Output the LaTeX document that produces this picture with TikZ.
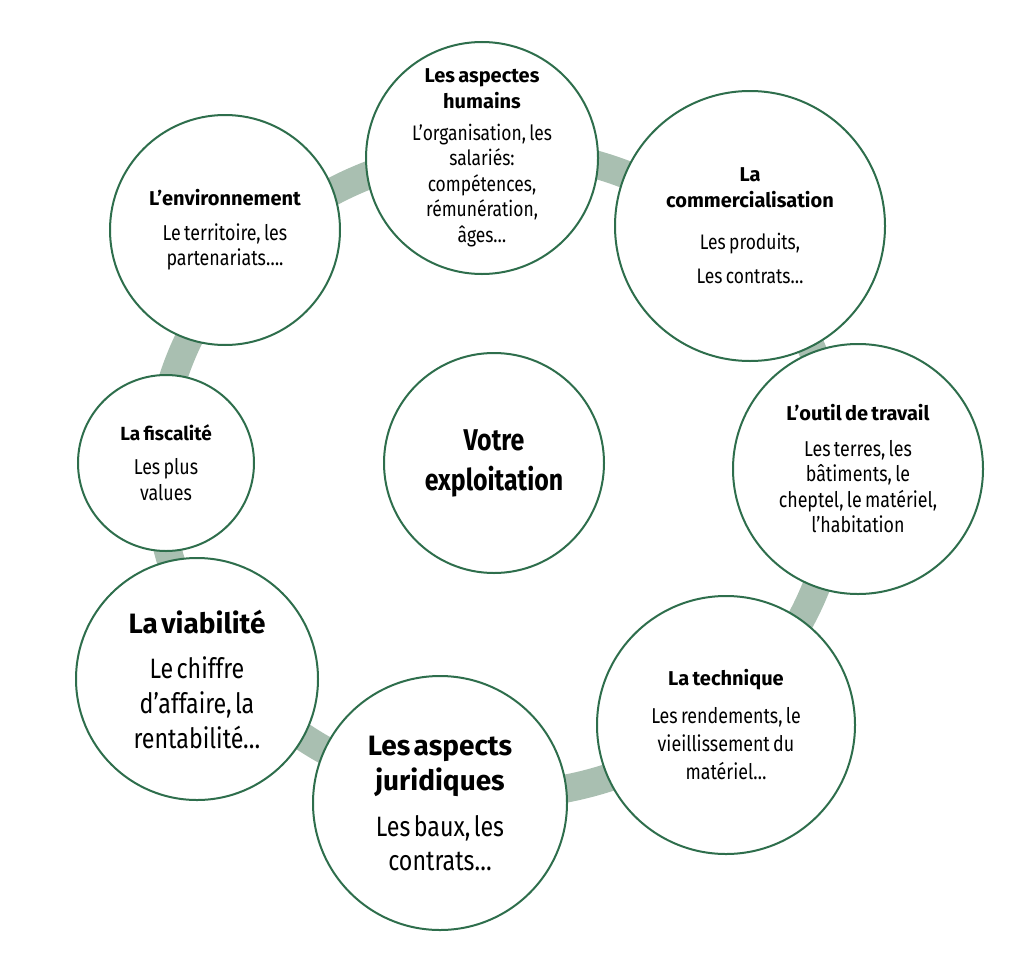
\documentclass[tikz,border=0pt]{standalone}
\usepackage{fontspec}
\setmainfont{Fira Sans}[FakeStretch=0.83]
\newfontfamily\titrefont{Fira Sans}
\usetikzlibrary{backgrounds}

\definecolor{bordvert}{HTML}{2E6E4C}
\definecolor{lienvert}{HTML}{A9BFB1}

% blocs de texte dans les bulles
\newcommand{\titre}[3]{{\fontsize{#1}{#2}\titrefont\bfseries #3\par}}
\newcommand{\corps}[3]{{\fontsize{#1}{#2}\selectfont #3\par}}

\begin{document}
\begin{tikzpicture}[x=1pt,y=-1pt,
  bulle/.style={circle,draw=bordvert,line width=2pt,fill=white,inner sep=-80pt,align=center},
  anneau/.style={draw=lienvert,line width=28pt}]
  \useasboundingbox (0,0) rectangle (1011,958);

  % Bulles du tour
  \node[bulle,minimum size=232pt,text width=200pt] (hum) at (482,158)
    {\titre{20}{26}{Les aspectes\\humains}\vspace{6pt}
     \corps{21}{25.5}{L’organisation, les\\salariés:\\compétences,\\rémunération,\\âges…}};
  \node[bulle,minimum size=270pt,text width=230pt] (com) at (750,226)
    {\titre{20}{26}{La\\commercialisation}\vspace{8pt}
     \corps{21}{34}{Les produits,\\Les contrats…}};
  \node[bulle,minimum size=230pt,text width=200pt] (env) at (225,230)
    {\titre{20}{25}{L’environnement}\vspace{10pt}
     \corps{21.5}{25}{Le territoire, les\\partenariats….}};
  \node[bulle,minimum size=176pt,text width=150pt] (fis) at (166,463)
    {\titre{19}{25}{La fiscalité}\vspace{8pt}
     \corps{21.5}{26}{Les plus\\values}};
  \node[bulle,minimum size=250pt,text width=220pt] (out) at (858,469)
    {\titre{20}{25}{L’outil de travail}\vspace{10pt}
     \corps{21.5}{25.5}{Les terres, les\\bâtiments, le\\cheptel, le matériel,\\l’habitation}};
  \node[bulle,minimum size=242pt,text width=210pt] (via) at (197,679)
    {\titre{28}{35}{La viabilité}\vspace{10pt}
     \corps{28}{35}{Le chiffre\\d’affaire, la\\rentabilité…}};
  \node[bulle,minimum size=254pt,text width=220pt] (jur) at (440,803)
    {\titre{28}{35}{Les aspects\\juridiques}\vspace{12pt}
     \corps{28}{34}{Les baux, les\\contrats…}};
  \node[bulle,minimum size=258pt,text width=220pt] (tec) at (726,725)
    {\titre{20}{26}{La technique}\vspace{10pt}
     \corps{21.5}{28}{Les rendements, le\\vieillissement du\\matériel…}};

  % Bulle centrale
  \node[bulle,minimum size=220pt,text width=190pt] (vot) at (494,463)
    {\corps{30}{40}{\bfseries Votre\\exploitation}};

  % Anneau qui relie les bulles
  \begin{scope}[on background layer]
    \draw[anneau] ([xshift=4pt,yshift=-10pt]vot.center) ellipse [x radius=340pt, y radius=322pt];
  \end{scope}
\end{tikzpicture}
\end{document}
